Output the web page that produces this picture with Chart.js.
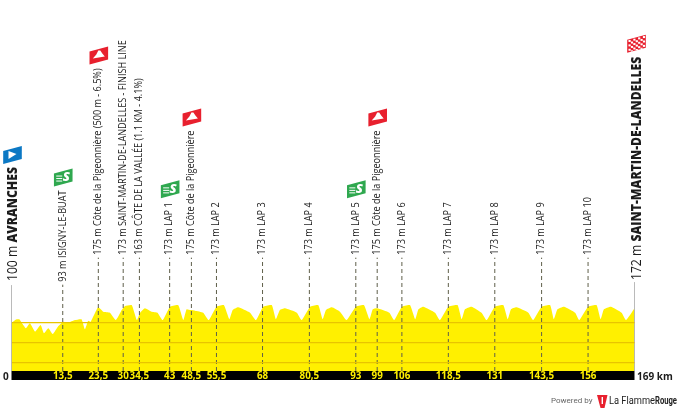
<!DOCTYPE html>
<html>
<head>
<meta charset="utf-8">
<style>
  html, body { margin: 0; padding: 0; background: #fff; }
  canvas { display: block; }
</style>
<script src="https://cdn.jsdelivr.net/npm/chart.js@4"></script>
</head>
<body>
<canvas id="stage" width="680" height="411"></canvas>
<script>
// --------- data -------------------------------
const profileKm = [0,1.4,2.1,3,3.9,5,6.4,7.9,8.8,10,11.2,12.7,14.1,15.4,17.2,19,19.9,20.8,21.5,23.5,24.9,26.7,28.3,29.9,30.8,32.6,34,34.9,36.2,38,39.6,41,43,45.2,46.6,47.5,48.6,49.8,52,53.5,55.6,57.6,59.1,60,61.5,64.7,66.3,68.3,70.6,71.7,72.8,74.2,77.4,78.7,81,83.2,84.4,85.3,86.9,89.1,90.9,93.4,95.6,97.1,98,99.2,102.5,103.8,105.9,108.1,109.5,110.4,111.7,114.9,116.2,118.5,121,122.1,123,124.8,127.5,128.9,131.1,133.4,134.6,135.5,137,140.2,141.5,143.8,146.1,147.1,148.1,149.9,152.9,154,156.4,158.7,159.8,160.7,162.6,165.5,166.7,169];
const profileM = [100,117,117,93,72,97,55,88,47,72,43,83,105,100,113,117,67,110,105,177,155,150,113,163,183,188,113,150,172,155,150,113,180,188,113,167,163,160,150,113,180,188,117,163,177,150,113,180,188,117,163,172,150,113,180,188,117,163,177,155,113,180,188,117,167,172,150,113,180,188,117,167,180,150,113,180,188,117,167,180,150,113,180,188,117,167,177,150,113,180,188,117,167,180,150,113,180,188,117,167,180,150,113,172];

// km position of each marker, and what is printed in the black bar
const markerKm = [13.9,23.55,30.3,34.7,42.9,48.8,55.6,68.1,80.8,93.4,99.2,105.9,118.5,131.1,143.8,156.4];
const markerTicks = ["13,5","23,5","30","34,5","43","48,5","55,5","68","80,5","93","99","106","118,5","131","143,5","156"];
const markerLabels = [
  "93 m ISIGNY-LE-BUAT",
  "175 m Côte de la Pigeonnière (500 m - 6.5%)",
  "173 m SAINT-MARTIN-DE-LANDELLES - FINISH LINE",
  "163 m CÔTE DE LA VALLÉE (1.1 KM - 4.1%)",
  "173 m LAP 1",
  "175 m Côte de la Pigeonnière",
  "173 m LAP 2",
  "173 m LAP 3",
  "173 m LAP 4",
  "173 m LAP 5",
  "175 m Côte de la Pigeonnière",
  "173 m LAP 6",
  "173 m LAP 7",
  "173 m LAP 8",
  "173 m LAP 9",
  "173 m LAP 10"
];
const markerIcons = ["sprint","climb","","","sprint","climb","","","","sprint","climb","","","","",""];

const startKm = 0, finishKm = 169;
const gridM = [100, 0, -100];

// --------- look ----------
const FONT = '"Open Sans"';
const YELLOW = "#fff000";
const STEM_TOP = 425;       // metres on the y scale, where the dashed lines stop
const STEM_TOP_LOW = 290;   // same, for the first marker which has a short stem
const SIDE_TOP_START = 288;
const SIDE_TOP_FINISH = 303;

function stemDataset(km, top, dashed) {
  return {
    data: [{ x: km, y: -141.5 }, { x: km, y: top }],
    borderColor: dashed ? "#5f5f4a" : "#777",
    borderWidth: 1,
    borderDash: dashed ? [4, 3] : [],
    pointRadius: 0,
    fill: false,
    order: 1
  };
}

// --------- icons: a slanted flag, 19 wide and 18 high ----------
function flagPath(ctx, cx, bottom) {
  ctx.beginPath();
  ctx.moveTo(cx - 9.3, bottom - 18 + 5);
  ctx.lineTo(cx + 9.3, bottom - 18);
  ctx.lineTo(cx + 9.3, bottom - 5);
  ctx.lineTo(cx - 9.3, bottom);
  ctx.closePath();
}

function drawIcon(ctx, type, cx, bottom) {
  ctx.save();
  const colours = { sprint: "#2fa84f", climb: "#e8202e", start: "#0b78c4", finish: "#e8202e" };
  ctx.fillStyle = colours[type];
  flagPath(ctx, cx, bottom);
  ctx.fill();
  ctx.fillStyle = "#fff";
  const my = bottom - 9;
  if (type === "climb") {
    ctx.beginPath();
    ctx.moveTo(cx - 6, my + 3);
    ctx.lineTo(cx - 2.5, my - 1);
    ctx.lineTo(cx - 0.5, my - 5);
    ctx.lineTo(cx + 1.5, my - 5);
    ctx.lineTo(cx + 3.5, my - 2);
    ctx.lineTo(cx + 6, my + 1);
    ctx.closePath();
    ctx.fill();
  } else if (type === "start") {
    ctx.beginPath();
    ctx.moveTo(cx - 4, my - 4);
    ctx.lineTo(cx + 4, my - 1);
    ctx.lineTo(cx - 4, my + 4);
    ctx.closePath();
    ctx.fill();
  } else if (type === "sprint") {
    ctx.fillRect(cx - 7, my - 2, 6, 1);
    ctx.fillRect(cx - 7, my + 0.5, 6, 1);
    ctx.fillRect(cx - 7, my + 3, 6, 1);
    ctx.font = `italic 800 13px ${FONT}`;
    ctx.textAlign = "center";
    ctx.textBaseline = "middle";
    ctx.fillText("S", cx + 3, my);
  } else if (type === "finish") {
    ctx.save();
    flagPath(ctx, cx, bottom);
    ctx.clip();
    for (let i = 0; i < 7; i++) {
      for (let j = 0; j < 6; j++) {
        if ((i + j) % 2) continue;
        const px = cx - 8 + i * 2.4;
        ctx.fillRect(px, bottom - 15 + j * 2.2 - (px - cx) * 0.27, 2.2, 2);
      }
    }
    ctx.restore();
  }
  ctx.restore();
}

// vertical text, runs = [[text, font], ...], squeezed along its length, returns the y where it ends
function verticalText(ctx, x, baseY, runs, squeeze) {
  ctx.save();
  ctx.translate(x, baseY);
  ctx.rotate(-Math.PI / 2);
  ctx.scale(squeeze, 1);
  ctx.textAlign = "left";
  ctx.textBaseline = "middle";
  ctx.fillStyle = "#1c1c1c";
  let pos = 0;
  runs.forEach(([text, font]) => {
    ctx.font = font;
    ctx.fillText(text, pos, 0);
    pos += ctx.measureText(text).width;
  });
  ctx.restore();
  return baseY - pos * squeeze;
}

// --------- black bar behind the km ticks ----------
const barPlugin = {
  id: "bar",
  beforeDraw(chart) {
    const { ctx, chartArea: a } = chart;
    ctx.save();
    ctx.fillStyle = "#000";
    ctx.fillRect(a.left, a.bottom, a.right - a.left, 9);
    ctx.restore();
  }
};

// --------- labels, icons, footer ----------
const labelPlugin = {
  id: "labels",
  afterDraw(chart) {
    const { ctx, scales: { x, y } } = chart;
    const regular = `10px ${FONT}`;

    markerKm.forEach((km, i) => {
      const px = x.getPixelForValue(km);
      const top = i === 0 ? STEM_TOP_LOW : STEM_TOP;
      const end = verticalText(ctx, px, y.getPixelForValue(top) - 3, [[markerLabels[i], regular]], 0.91);
      if (markerIcons[i]) drawIcon(ctx, markerIcons[i], px + 0.5, end - 4);
    });

    const big = `14px ${FONT}`;
    const bigBold = `800 14px ${FONT}`;
    const sx = x.getPixelForValue(startKm);
    const e1 = verticalText(ctx, sx + 1.5, y.getPixelForValue(SIDE_TOP_START) - 4, [["100 m ", big], ["AVRANCHES", bigBold]], 0.87);
    drawIcon(ctx, "start", sx + 1, e1 - 3);

    const fx = x.getPixelForValue(finishKm);
    const e2 = verticalText(ctx, fx + 2.5, y.getPixelForValue(SIDE_TOP_FINISH) - 2, [["172 m ", big], ["SAINT-MARTIN-DE-LANDELLES", bigBold]], 0.87);
    drawIcon(ctx, "finish", fx + 2, e2 - 4);

    ctx.save();
    ctx.textBaseline = "middle";
    ctx.fillStyle = "#1c1c1c";
    ctx.font = `700 10px ${FONT}`;
    ctx.textAlign = "left";
    ctx.fillText("0", 3, 377);
    ctx.fillText("169 km", 637, 377);

    // footer
    ctx.font = `8px Roboto`;
    ctx.fillStyle = "#666";
    ctx.fillText("Powered by", 551, 401);
    ctx.fillStyle = "#e8202e";
    ctx.beginPath();
    ctx.moveTo(597, 395);
    ctx.lineTo(607.5, 395);
    ctx.lineTo(604.5, 408);
    ctx.lineTo(600.5, 408);
    ctx.closePath();
    ctx.fill();
    ctx.fillStyle = "#fff";
    ctx.fillRect(601.6, 397, 1.4, 7);
    ctx.fillStyle = "#222";
    ctx.font = `10px Roboto`;
    ctx.fillText("La Flamme", 609, 401, 46);
    ctx.font = `700 10px Roboto`;
    ctx.fillText("Rouge", 655, 401, 22);
    ctx.restore();
  }
};

const stems = markerKm.map((km, i) => stemDataset(km, i === 0 ? STEM_TOP_LOW : STEM_TOP, true));

new Chart(document.getElementById("stage"), {
  type: "line",
  data: {
    datasets: [
      ...stems,
      stemDataset(startKm, SIDE_TOP_START, false),
      stemDataset(finishKm, SIDE_TOP_FINISH, false),
      {
        data: profileKm.map((km, i) => ({ x: km, y: profileM[i] })),
        borderWidth: 0,
        backgroundColor: YELLOW,
        fill: "start",
        tension: 0.15,
        pointRadius: 0,
        order: 2
      }
    ]
  },
  options: {
    responsive: false,
    animation: false,
    devicePixelRatio: 1,
    layout: { padding: { left: 11.5, right: 45.5, top: 0, bottom: 0 } },
    plugins: { legend: { display: false }, tooltip: { enabled: false } },
    scales: {
      x: {
        type: "linear",
        min: startKm,
        max: finishKm,
        border: { display: false },
        grid: { display: false, drawTicks: false },
        afterFit(scale) { scale.height = 40; },
        afterBuildTicks(scale) { scale.ticks = markerKm.map(v => ({ value: v })); },
        ticks: {
          autoSkip: false,
          maxRotation: 0,
          minRotation: 0,
          padding: -1,
          color: YELLOW,
          font: { family: "Open Sans", size: 9.8, weight: "700" },
          callback: (v, i) => markerTicks[i]
        }
      },
      y: {
        min: -141.5,
        max: 1713,
        border: { display: false },
        afterFit(scale) { scale.width = 0; },
        afterBuildTicks(scale) { scale.ticks = gridM.map(v => ({ value: v })); },
        grid: { color: "#e8c400", lineWidth: 1.2, drawTicks: false, z: 1 },
        ticks: { display: false }
      }
    }
  },
  plugins: [barPlugin, labelPlugin]
});
</script>
</body>
</html>
